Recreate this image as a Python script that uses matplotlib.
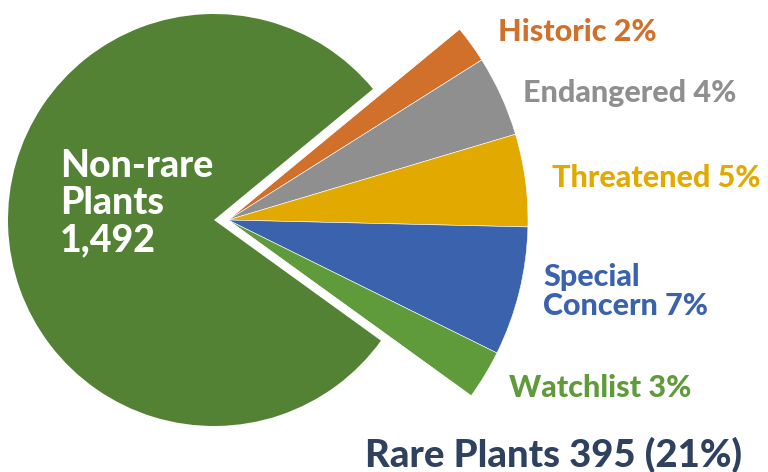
import matplotlib
matplotlib.use("Agg")
import matplotlib.pyplot as plt

# data
non_rare_label = "Non-rare\nPlants\n1,492"
non_rare_count = 1492
rare_labels = ["Historic 2%", "Endangered 4%", "Threatened 5%", "Special\nConcern 7%", "Watchlist 3%"]
rare_counts = [38, 82, 94, 131, 50]  # sum 395
rare_title = "Rare Plants 395 (21%)"

green = "#548235"
rare_colors = ["#D1702A", "#8F8F8F", "#E2AA00", "#3A62AD", "#5F9A3B"]
navy = "#2E4260"

plt.rcParams["font.family"] = ["Lato", "DejaVu Sans"]

fig = plt.figure(figsize=(7.68, 4.72), dpi=100)
ax = fig.add_axes([0, 0, 1, 1])

H = 472
start = 39.5
rare_total = sum(rare_counts)

# main pie (non-rare slice only)
ax.pie([non_rare_count, rare_total], colors=[green, "none"], startangle=start,
       radius=206, center=(214, H - 220), frame=True,
       wedgeprops=dict(linewidth=0))

# rare slices, pulled out and bigger
ax.pie(rare_counts + [non_rare_count], colors=rare_colors + ["none"],
       startangle=start, counterclock=False, radius=300, center=(228, H - 220),
       frame=True, wedgeprops=dict(linewidth=0.4, edgecolor="#ffffff"))
ax.set_xlim(0, 768)
ax.set_ylim(0, 472)
ax.axis("off")

# labels (baseline of last line)
lab_pos = [(498, 41), (523, 102), (552, 187), (543, 315), (509, 397)]
for txt, (x, y), c in zip(rare_labels, lab_pos, rare_colors):
    ax.text(x, H - y, txt, color=c, fontsize=22, fontweight=900,
            ha="left", va="baseline", linespacing=1.05)

ax.text(60, H - 251, non_rare_label, color="white", fontsize=27,
        fontweight=900, ha="left", va="baseline", linespacing=1.1)

ax.text(365, H - 467, rare_title, color=navy, fontsize=27.5, fontweight=900,
        ha="left", va="baseline")

fig.savefig("out.png", dpi=100)
